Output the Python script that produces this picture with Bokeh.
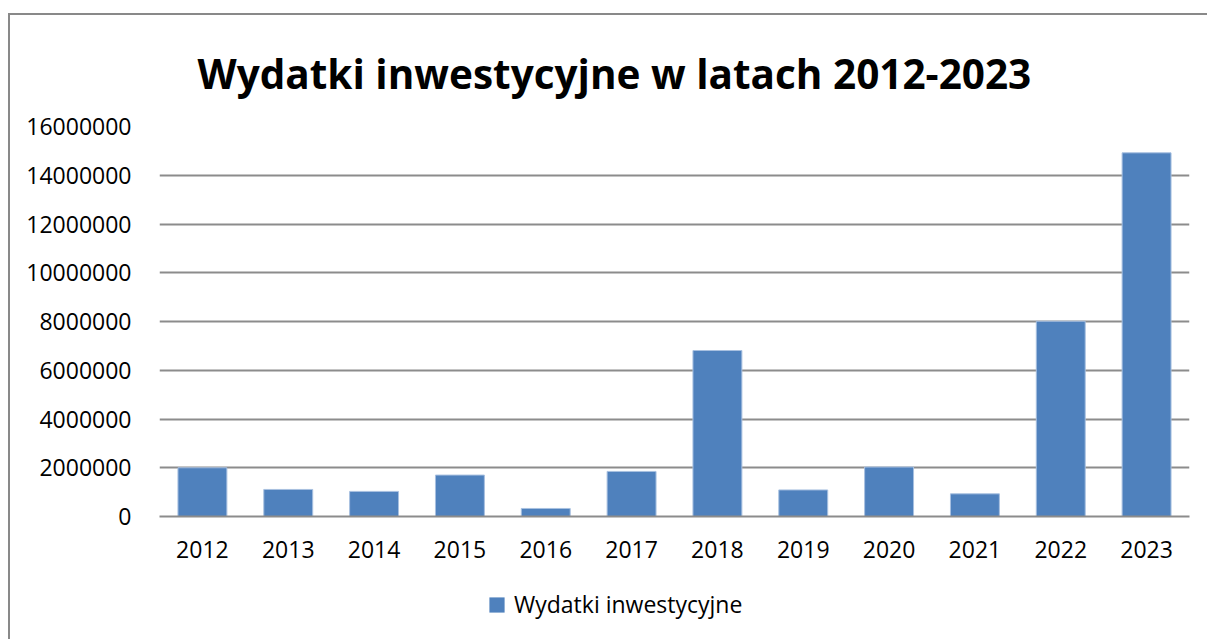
from bokeh.plotting import figure
from bokeh.layouts import column
from bokeh.models import ColumnDataSource, FixedTicker, NumeralTickFormatter, Legend, LegendItem, FactorRange, Range1d
from bokeh.embed import file_html
from bokeh.resources import INLINE

years = ["2012", "2013", "2014", "2015", "2016", "2017", "2018", "2019", "2020", "2021", "2022", "2023"]
values = [2000000, 1110000, 1030000, 1700000, 330000, 1850000, 6810000, 1090000, 2030000, 930000, 8010000, 14920000]
y_ticks = [0, 2000000, 4000000, 6000000, 8000000, 10000000, 12000000, 14000000, 16000000]
title_text = "Wydatki inwestycyjne w latach 2012-2023"
series_name = "Wydatki inwestycyjne"

FONT = "Open Sans"
GRID = "#8c8c8c"
BAR = "#4F81BD"
BAR_EDGE = "#a8c0e0"

src = ColumnDataSource(dict(year=years, value=values))

p = figure(frame_width=1030, frame_height=390, x_range=FactorRange(*years), y_range=Range1d(0, 16000000),
           output_backend="svg", toolbar_location=None,
           min_border_left=149, min_border_right=18, min_border_top=111, min_border_bottom=61)
p.outline_line_color = None

p.title.text = title_text
p.title.text_font = FONT
p.title.text_font_style = "bold"
p.title.text_font_size = "40.5px"
p.title.text_color = "#000000"
p.title.align = "left"
p.title.offset = 38
p.title.standoff = 51

p.vbar(x="year", top="value", width=0.57, source=src, fill_color=BAR, line_color=BAR_EDGE, line_width=1)

p.yaxis.ticker = FixedTicker(ticks=y_ticks)
p.yaxis.formatter = NumeralTickFormatter(format="0")
p.yaxis.axis_line_color = None
p.yaxis.major_tick_line_color = None
p.yaxis.minor_tick_line_color = None
p.yaxis.major_label_standoff = 22
p.yaxis.major_label_text_font = FONT
p.yaxis.major_label_text_font_size = "23px"
p.yaxis.major_label_text_color = "#000000"

p.xaxis.axis_line_color = GRID
p.xaxis.axis_line_width = 2
p.xaxis.major_tick_line_color = None
p.xaxis.minor_tick_line_color = None
p.xaxis.major_label_standoff = 18
p.xaxis.major_label_text_font = FONT
p.xaxis.major_label_text_font_size = "23px"
p.xaxis.major_label_text_color = "#000000"

p.xgrid.grid_line_color = None
p.ygrid.ticker = FixedTicker(ticks=y_ticks)
p.ygrid.grid_line_color = GRID
p.ygrid.grid_line_width = 2

# legend strip below the chart; its proxy renderer uses the same data but its view range lies above all bars,
# so nothing is drawn in the strip except the legend itself
lg = figure(width=1197, height=63, x_range=FactorRange(*years), y_range=Range1d(20000000, 30000000),
            output_backend="svg", toolbar_location=None,
            min_border_left=0, min_border_right=0, min_border_top=0, min_border_bottom=0)
lg.axis.visible = False
lg.grid.visible = False
lg.outline_line_color = None
lr = lg.vbar(x="year", top="value", width=0.57, source=src, fill_color=BAR, line_color=None)
legend = Legend(items=[LegendItem(label=series_name, renderers=[lr])], location=(328, 20),
                orientation="horizontal", padding=0, margin=0, border_line_color=None,
                background_fill_alpha=0, glyph_width=19, glyph_height=19, label_standoff=8,
                label_text_font=FONT, label_text_font_size="23px", label_text_color="#000000")
lg.add_layout(legend, "center")

layout = column(p, lg, spacing=0)
layout.styles = {"border-top": "2px solid #898989", "border-left": "2px solid #898989",
                 "margin-top": "13px", "margin-left": "8px"}

open("out.html", "w").write(file_html(layout, INLINE))
